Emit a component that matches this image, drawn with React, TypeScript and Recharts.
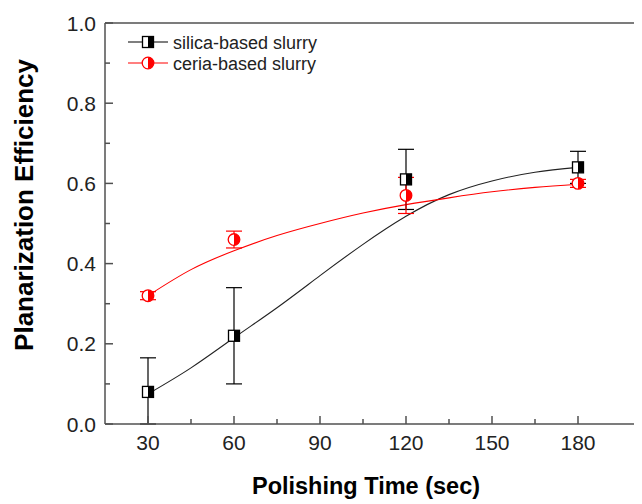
import React from 'react';
import { ComposedChart, Line, Scatter, ErrorBar, XAxis, YAxis, ReferenceLine } from 'recharts';

const fitTimes = [30, 45, 60, 75, 90, 105, 120, 135, 150, 165, 180];
const silicaFitValues = [0.075, 0.14, 0.215, 0.29, 0.37, 0.448, 0.518, 0.572, 0.606, 0.628, 0.64];
const ceriaFitValues = [0.32, 0.385, 0.432, 0.47, 0.5, 0.526, 0.547, 0.564, 0.579, 0.59, 0.598];

const measuredTimes = [30, 60, 120, 180];
const silicaValues = [0.08, 0.22, 0.61, 0.64];
const silicaErrors: [number, number][] = [[0.08, 0.085], [0.12, 0.12], [0.075, 0.075], [0.04, 0.04]];
const ceriaValues = [0.32, 0.46, 0.57, 0.6];
const ceriaErrors: [number, number][] = [[0.01, 0.01], [0.021, 0.021], [0.045, 0.045], [0.01, 0.01]];

const xTicks = [30, 45, 60, 75, 90, 105, 120, 135, 150, 165, 180];
const yTicks = [0, 0.1, 0.2, 0.3, 0.4, 0.5, 0.6, 0.7, 0.8, 0.9, 1.0];
const xLabelTicks = [30, 60, 90, 120, 150, 180];

const seriesNames = ['silica-based slurry', 'ceria-based slurry'];
const xTitle = 'Polishing Time (sec)';
const yTitle = 'Planarization Efficiency';

const fitData = fitTimes.map((t, i) => ({ t, silicaFit: silicaFitValues[i], ceriaFit: ceriaFitValues[i] }));
const silicaData = measuredTimes.map((t, i) => ({ t, v: silicaValues[i], err: silicaErrors[i] }));
const ceriaData = measuredTimes.map((t, i) => ({ t, v: ceriaValues[i], err: ceriaErrors[i] }));

const FONT = '"Liberation Sans", Arial, sans-serif';
const AXIS = '#505050';
const TICKTEXT = '#222';

const HalfSquare = ({ cx, cy }: any) => {
  if (cx == null || cy == null) return null;
  const s = 11;
  return (
    <g>
      <rect x={cx - s / 2} y={cy - s / 2} width={s} height={s} fill="#fff" stroke="#000" strokeWidth={1.3} />
      <rect x={cx} y={cy - s / 2} width={s / 2} height={s} fill="#000" />
    </g>
  );
};

const HalfCircle = ({ cx, cy }: any) => {
  if (cx == null || cy == null) return null;
  const r = 5.8;
  return (
    <g>
      <circle cx={cx} cy={cy} r={r} fill="#fff" stroke="#ff0000" strokeWidth={1.3} />
      <path d={`M ${cx} ${cy - r} A ${r} ${r} 0 0 1 ${cx} ${cy + r} Z`} fill="#ff0000" />
    </g>
  );
};

const YTick = (props: any) => {
  const { x, y, payload } = props;
  const v = payload.value;
  const major = Math.round(v * 10) % 2 === 0;
  return (
    <g>
      <line x1={x} x2={x + (major ? 8 : 5)} y1={y} y2={y} stroke={AXIS} strokeWidth={1.5} />
      {major && (
        <text x={x - 9} y={y + 7.5} textAnchor="end" fontSize={21} fontFamily={FONT} fill={TICKTEXT}>
          {v.toFixed(1)}
        </text>
      )}
    </g>
  );
};

const XTick = (props: any) => {
  const { x, y, payload } = props;
  const v = payload.value;
  const major = xLabelTicks.includes(v);
  return (
    <g>
      <line x1={x} x2={x} y1={y} y2={y - (major ? 8 : 5)} stroke={AXIS} strokeWidth={1.5} />
      {major && (
        <text x={x} y={y + 26} textAnchor="middle" fontSize={21} fontFamily={FONT} fill={TICKTEXT}>
          {v}
        </text>
      )}
    </g>
  );
};

const LegendBox = () => (
  <svg width={300} height={50} style={{ display: 'block' }}>
    <g>
      <line x1={8} x2={48} y1={12} y2={12} stroke="#000" strokeWidth={1.2} />
      <HalfSquare cx={28} cy={12} />
      <text x={53} y={18.5} fontSize={18} fontFamily={FONT} fill={TICKTEXT}>{seriesNames[0]}</text>
    </g>
    <g>
      <line x1={8} x2={48} y1={33} y2={33} stroke="#ff0000" strokeWidth={1.2} />
      <HalfCircle cx={28} cy={33} />
      <text x={53} y={39.5} fontSize={18} fontFamily={FONT} fill={TICKTEXT}>{seriesNames[1]}</text>
    </g>
  </svg>
);

export default function App() {
  return (
    <div style={{ width: 634, height: 496, overflow: 'hidden', position: 'relative' }}>
      <ComposedChart
        width={700}
        height={496}
        data={fitData}
        margin={{ top: 15, right: 44, bottom: 0, left: 0 }}
      >
        <XAxis
          dataKey="t"
          type="number"
          domain={[15, 210]}
          ticks={xTicks}
          interval={0}
          allowDataOverflow
          height={80}
          tickSize={0}
          tickMargin={0}
          tickLine={false}
          tick={<XTick />}
          axisLine={{ stroke: AXIS, strokeWidth: 1.5 }}
          label={{
            content: () => (
              <text x={358} y={486} textAnchor="middle" fontSize={23.5} fontWeight="bold" fontFamily={FONT} fill="#000">
                {xTitle}
              </text>
            ),
          }}
        />
        <YAxis
          type="number"
          domain={[0, 1]}
          ticks={yTicks}
          interval={0}
          allowDataOverflow
          width={97}
          tickSize={0}
          tickMargin={0}
          tickLine={false}
          tick={<YTick />}
          axisLine={{ stroke: AXIS, strokeWidth: 1.5 }}
          label={{
            content: () => (
              <text
                x={25}
                y={197}
                textAnchor="middle"
                fontSize={26}
                fontWeight="bold"
                fontFamily={FONT}
                fill="#000"
                transform="rotate(-90 25 197)"
              >
                {yTitle}
              </text>
            ),
          }}
        />
        <ReferenceLine y={1} stroke={AXIS} strokeWidth={1.5} ifOverflow="visible" />
        <Line
          dataKey="silicaFit"
          type="natural"
          stroke="#222"
          strokeWidth={1.1}
          dot={false}
          activeDot={false}
          isAnimationActive={false}
          legendType="none"
        />
        <Line
          dataKey="ceriaFit"
          type="natural"
          stroke="#ff0000"
          strokeWidth={1.1}
          dot={false}
          activeDot={false}
          isAnimationActive={false}
          legendType="none"
        />
        <Scatter data={silicaData} dataKey="v" shape={<HalfSquare />} isAnimationActive={false}>
          <ErrorBar dataKey="err" direction="y" width={8} stroke="#000" strokeWidth={1.2} />
        </Scatter>
        <Scatter data={ceriaData} dataKey="v" shape={<HalfCircle />} isAnimationActive={false}>
          <ErrorBar dataKey="err" direction="y" width={8} stroke="#ff0000" strokeWidth={1.2} />
        </Scatter>
      </ComposedChart>
      <div style={{ position: 'absolute', top: 22, left: 112, width: 300, height: 50 }}>
        <LegendBox />
      </div>
    </div>
  );
}
